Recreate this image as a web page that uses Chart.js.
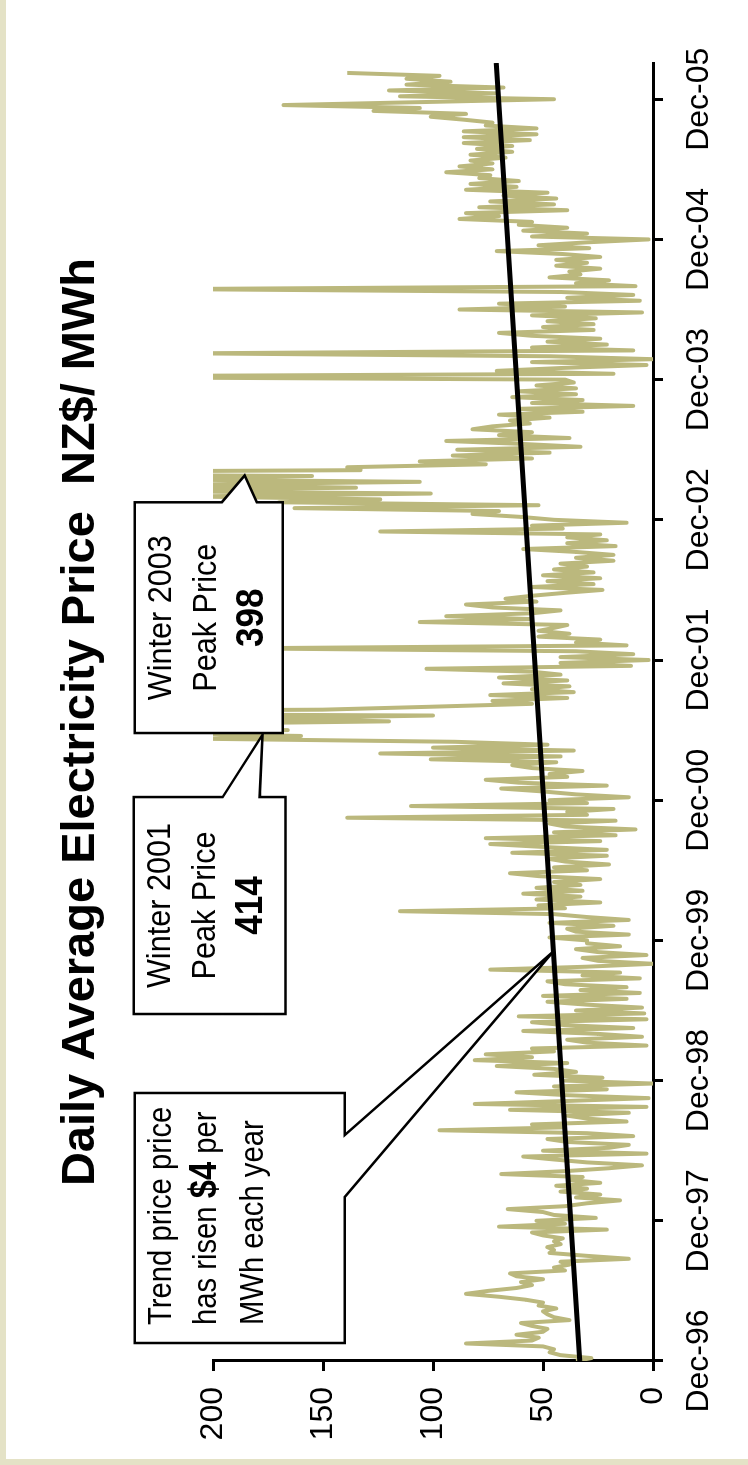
<!DOCTYPE html>
<html>
<head>
<meta charset="utf-8">
<script src="https://cdn.jsdelivr.net/npm/chart.js@4.4.0/dist/chart.umd.min.js"></script>
<style>
  html, body { margin: 0; padding: 0; }
  body { width: 748px; height: 1465px; background: #e4e2c6; position: relative; overflow: hidden; }
  #sheet { position: absolute; left: 6px; top: 0; width: 742px; height: 1459px; background: #fff; }
  /* chart is drawn landscape, then turned a quarter to the left */
  #turn { position: absolute; left: 0; top: 0; width: 1465px; height: 748px;
          transform-origin: 0 0; transform: translateY(1465px) rotate(-90deg); }
</style>
</head>
<body>
<div id="sheet"></div>
<div id="turn"><canvas id="priceChart" width="1465" height="748"></canvas></div>
<script>
// x is months since Dec-96, one price every quarter month
const stepMonths = 0.25;
const prices = [
  // Dec-96 .. Nov-97
  35, 28, 42, 47, 45, 50, 85, 55, 52, 62, 50, 48, 55, 60, 38, 45, 48, 50, 44, 52, 50, 58, 70, 85,
  75, 62, 55, 60, 50, 62, 65, 40, 45, 38, 42, 11, 30, 47, 45, 48, 42, 45, 41, 50, 55, 21, 70, 40,
  // Dec-97 .. Nov-98
  53, 26, 45, 50, 66, 40, 30, 15, 35, 24, 42, 30, 44, 24, 38, 32, 69, 40, 20, 5, 30, 45, 59, 3,
  50, 20, 11, 39, 48, 9, 30, 97, 40, 55, 12, 30, 39, 11, 65, 3, 81, 40, 2, 39, 62, 21, 45, 0,
  // Dec-98 .. Nov-99
  40, 23, 54, 35, 45, 71, 39, 81, 55, 76, 45, 55, 3, 30, 39, 5, 25, 59, 9, 40, 55, 3, 61, 4,
  35, 5, 30, 48, 12, 50, 6, 33, 12, 40, 48, 6, 32, 15, 74, 30, 0, 25, 32, 3, 25, 35, 15, 30,
  // Dec-99 .. Nov-00
  30, 47, 11, 35, 39, 18, 47, 11, 30, 45, 115, 40, 52, 24, 53, 33, 59, 32, 53, 33, 45, 24, 52, 65,
  30, 45, 20, 40, 48, 21, 64, 21, 50, 74, 24, 76, 17, 45, 8, 40, 47, 17, 139, 30, 39, 18, 110, 30,
  // Dec-00 .. Nov-01
  47, 11, 35, 50, 69, 21, 61, 76, 39, 47, 32, 55, 64, 44, 101, 42, 124, 36, 100, 48, 90, 200, 160, 240,
  166, 300, 230, 120, 180, 100, 414, 150, 101, 55, 73, 39, 74, 36, 55, 38, 68, 39, 70, 42, 55, 103, 10, 42,
  // Dec-01 .. Nov-02
  2, 42, 9, 35, 190, 12, 35, 24, 52, 38, 52, 45, 39, 106, 55, 94, 55, 42, 73, 85, 53, 67, 55, 40,
  23, 55, 27, 48, 24, 50, 27, 45, 30, 42, 18, 35, 18, 35, 59, 17, 39, 21, 39, 24, 124, 41, 55, 12,
  // Dec-02 .. Nov-03
  45, 60, 82, 70, 163, 52, 170, 124, 210, 101, 260, 135, 220, 106, 250, 155, 398, 133, 139, 76, 106, 55, 91, 47,
  89, 33, 60, 94, 38, 70, 55, 82, 73, 56, 65, 47, 70, 32, 61, 9, 55, 32, 64, 35, 61, 35, 53, 36,
  // Dec-03 .. Nov-04
  40, 300, 18, 71, 41, 3, 55, 0, 47, 210, 9, 55, 21, 48, 24, 55, 70, 27, 50, 27, 48, 26, 55, 5,
  88, 40, 70, 6, 39, 9, 42, 220, 8, 35, 20, 47, 33, 38, 24, 44, 30, 44, 24, 41, 71, 29, 52, 30,
  // Dec-04 .. Nov-05
  2, 55, 30, 59, 39, 61, 55, 88, 70, 85, 39, 79, 45, 74, 44, 68, 48, 85, 62, 83, 61, 79, 74, 94,
  73, 88, 73, 83, 67, 83, 64, 80, 64, 86, 56, 86, 53, 86, 53, 76, 73, 86, 101, 85, 127, 106, 168, 106,
  // Dec-05 ..
  45, 115, 71, 120, 68, 112, 92, 112, 97, 139
];
const trendMonths = [0, 111.1];
const trendPrices = [33.3, 71.2];
const tickMonths = [0, 12, 24, 36, 48, 60, 72, 84, 96, 108];
const tickLabels = ['Dec-96', 'Dec-97', 'Dec-98', 'Dec-99', 'Dec-00', 'Dec-01', 'Dec-02', 'Dec-03', 'Dec-04', 'Dec-05'];
const titleText = 'Daily Average Electricity Price  NZ$/ MWh';

const FONT = '"Liberation Sans", Arial, sans-serif';

// callout boxes: [month from, month to, price top, price bottom]
const callouts = [
  { box: [1.54, 22.94, 235.6, 140.1], side: 'bottom', base: [19.34, 14.04], tip: [35.0, 45.6], align: 'left', squeeze: 0.86,
    lines: [[['Trend price price', 0]], [['has risen ', 0], ['$4', 38], [' per', 0]], [['MWh each year', 0]]] },
  { box: [29.7, 48.27, 236, 167], side: 'right', base: [195.6, 178.8], tip: [53.6, 177.5], align: 'center', squeeze: 0.9,
    lines: [[['Winter 2001', 0]], [['Peak Price', 0]], [['414', 39]]] },
  { box: [53.75, 73.5, 235.6, 168.3], side: 'right', base: [196, 180.1], tip: [75.8, 185.6], align: 'center', squeeze: 0.9,
    lines: [[['Winter 2003', 0]], [['Peak Price', 0]], [['398', 39]]] }
];
const lineOffsets = [36, 81, 128];

function drawParts(ctx, parts, x, y, align, sx) {
  const fonts = parts.map(p => p[1] ? 'bold ' + p[1] + 'px ' + FONT : '34px ' + FONT);
  const widths = parts.map((p, i) => { ctx.font = fonts[i]; return ctx.measureText(p[0]).width * sx; });
  let cx = align === 'center' ? x - widths.reduce((a, b) => a + b, 0) / 2 : x;
  ctx.textAlign = 'left';
  ctx.textBaseline = 'alphabetic';
  parts.forEach((p, i) => {
    ctx.save();
    ctx.translate(cx, y);
    ctx.scale(sx, 1);
    ctx.font = fonts[i];
    ctx.fillText(p[0], 0, 0);
    ctx.restore();
    cx += widths[i];
  });
}

const calloutPlugin = {
  id: 'callouts',
  afterDraw(chart) {
    const ctx = chart.ctx;
    const px = m => chart.scales.x.getPixelForValue(m);
    const py = p => chart.scales.y.getPixelForValue(p);
    ctx.save();
    ctx.fillStyle = '#000';
    ctx.font = 'bold 47px ' + FONT;
    ctx.textAlign = 'center';
    ctx.textBaseline = 'alphabetic';
    ctx.fillText(titleText, 743, 94);

    callouts.forEach(c => {
      const [m0, m1, pTop, pBot] = c.box;
      ctx.beginPath();
      ctx.moveTo(px(m0), py(pTop));
      ctx.lineTo(px(m1), py(pTop));
      if (c.side === 'right') {
        ctx.lineTo(px(m1), py(c.base[0]));
        ctx.lineTo(px(c.tip[0]), py(c.tip[1]));
        ctx.lineTo(px(m1), py(c.base[1]));
        ctx.lineTo(px(m1), py(pBot));
      } else {
        ctx.lineTo(px(m1), py(pBot));
        ctx.lineTo(px(c.base[0]), py(pBot));
        ctx.lineTo(px(c.tip[0]), py(c.tip[1]));
        ctx.lineTo(px(c.base[1]), py(pBot));
      }
      ctx.lineTo(px(m0), py(pBot));
      ctx.closePath();
      ctx.fillStyle = '#fff';
      ctx.fill();
      ctx.lineWidth = 2.5;
      ctx.strokeStyle = '#000';
      ctx.lineJoin = 'miter';
      ctx.stroke();

      ctx.fillStyle = '#000';
      const x = c.align === 'center' ? (px(m0) + px(m1)) / 2 : px(m0) + 18;
      c.lines.forEach((parts, i) => drawParts(ctx, parts, x, py(pTop) + lineOffsets[i], c.align, c.squeeze));
    });
    ctx.restore();
  }
};

const axisFont = { family: FONT, size: 32 };

new Chart(document.getElementById('priceChart'), {
  type: 'line',
  data: {
    datasets: [{
      data: trendMonths.map((m, i) => ({ x: m, y: trendPrices[i] })),
      borderColor: '#000',
      borderWidth: 5,
      pointRadius: 0,
      clip: 0
    }, {
      data: prices.map((p, i) => ({ x: i * stepMonths, y: p })),
      borderColor: '#bbb87d',
      borderWidth: 4,
      borderJoinStyle: 'round',
      pointRadius: 0,
      tension: 0,
      clip: 0
    }]
  },
  options: {
    responsive: false,
    animation: false,
    events: [],
    layout: { padding: { top: 213, right: 63, left: 0, bottom: 0 } },
    scales: {
      x: {
        type: 'linear',
        min: 0,
        max: 111.1,
        afterBuildTicks: s => { s.ticks = tickMonths.map(v => ({ value: v })); },
        afterFit: s => { s.height = 95; },
        grid: { drawOnChartArea: false, tickLength: 10, tickColor: '#000', tickWidth: 3 },
        border: { display: true, color: '#000', width: 3 },
        ticks: {
          color: '#000',
          font: axisFont,
          padding: 17,
          maxRotation: 0,
          autoSkip: false,
          callback: v => tickLabels[tickMonths.indexOf(v)]
        }
      },
      y: {
        min: 0,
        max: 200,
        afterFit: s => { s.width = 104; },
        grid: { drawOnChartArea: false, tickLength: 10, tickColor: '#000', tickWidth: 3 },
        border: { display: true, color: '#000', width: 3 },
        ticks: { stepSize: 50, color: '#000', font: axisFont, padding: 16 }
      }
    },
    plugins: {
      legend: { display: false },
      tooltip: { enabled: false }
    }
  },
  plugins: [calloutPlugin]
});
</script>
</body>
</html>
